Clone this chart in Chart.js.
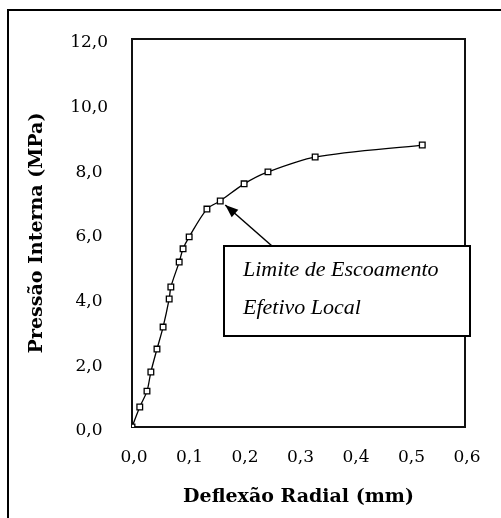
<!DOCTYPE html>
<html>
<head>
<meta charset="utf-8">
<script src="https://cdn.jsdelivr.net/npm/chart.js@4/dist/chart.umd.min.js"></script>
<style>
  html, body { margin: 0; padding: 0; background: #fff; }
  #chart { display: block; }
</style>
</head>
<body>
<canvas id="chart" width="501" height="518"></canvas>
<script>
// deflexão radial (mm) e pressão interna (MPa)
const deflexao = [0, 0.014, 0.027, 0.034, 0.045, 0.056, 0.067, 0.070, 0.085, 0.092, 0.103, 0.135, 0.159, 0.202, 0.245, 0.330, 0.523];
const pressao  = [0, 0.62, 1.11, 1.70, 2.41, 3.09, 3.96, 4.33, 5.10, 5.51, 5.88, 6.74, 6.99, 7.52, 7.89, 8.35, 8.72];

const xTicks = [0, 0.1, 0.2, 0.3, 0.4, 0.5, 0.6];
const yTicks = [0, 2, 4, 6, 8, 10, 12];

const xTitle = "Deflexão Radial (mm)";
const yTitle = "Pressão Interna (MPa)";
const noteLines = ["Limite de Escoamento", "Efetivo Local"];
const noteIndex = 12; // ponto para onde a seta aponta

const fmt = (v, d) => v.toFixed(d).replace(".", ",");

const tickFont = { family: "DejaVu Serif", size: 17 };
const titleFont = { family: "DejaVu Serif", size: 19, weight: "bold" };

// moldura externa, caixa do gráfico e anotação
const framePlugin = {
  id: "frame",
  beforeDraw(chart) {
    const ctx = chart.ctx;
    ctx.save();
    ctx.fillStyle = "#fff";
    ctx.fillRect(0, 0, chart.width, chart.height);
    ctx.strokeStyle = "#000";
    ctx.lineWidth = 2;
    ctx.beginPath();
    ctx.moveTo(8, chart.height);
    ctx.lineTo(8, 10);
    ctx.lineTo(chart.width, 10);
    ctx.stroke();
    ctx.restore();
  },
  beforeDatasetsDraw(chart) {
    const { ctx, chartArea: a } = chart;
    ctx.save();
    ctx.strokeStyle = "#111";
    ctx.lineWidth = 2;
    ctx.strokeRect(a.left, a.top, a.right - a.left, a.bottom - a.top);
    ctx.restore();
  },
  afterDatasetsDraw(chart) {
    const ctx = chart.ctx;
    const x = chart.scales.x, y = chart.scales.y;
    const tx = x.getPixelForValue(deflexao[noteIndex]) + 5;
    const ty = y.getPixelForValue(pressao[noteIndex]) + 4;
    const box = { l: 224, t: 246, r: 470, b: 336 };
    const sx = 272, sy = box.t;

    ctx.save();
    // seta
    ctx.strokeStyle = "#000";
    ctx.fillStyle = "#000";
    ctx.lineWidth = 1.5;
    ctx.beginPath();
    ctx.moveTo(sx, sy);
    ctx.lineTo(tx, ty);
    ctx.stroke();
    const ang = Math.atan2(ty - sy, tx - sx);
    const L = 13, W = 5;
    ctx.beginPath();
    ctx.moveTo(tx, ty);
    ctx.lineTo(tx - L * Math.cos(ang) + W * Math.sin(ang), ty - L * Math.sin(ang) - W * Math.cos(ang));
    ctx.lineTo(tx - L * Math.cos(ang) - W * Math.sin(ang), ty - L * Math.sin(ang) + W * Math.cos(ang));
    ctx.closePath();
    ctx.fill();

    // caixa
    ctx.fillStyle = "#fff";
    ctx.fillRect(box.l, box.t, box.r - box.l, box.b - box.t);
    ctx.lineWidth = 2;
    ctx.strokeRect(box.l, box.t, box.r - box.l, box.b - box.t);

    ctx.fillStyle = "#000";
    ctx.font = "italic 22px 'Liberation Serif'";
    ctx.textBaseline = "middle";
    ctx.textAlign = "left";
    ctx.fillText(noteLines[0], 243, 270);
    ctx.fillText(noteLines[1], 243, 308);
    ctx.restore();
  }
};

new Chart(document.getElementById("chart"), {
  type: "scatter",
  data: {
    datasets: [{
      data: deflexao.map((d, i) => ({ x: d, y: pressao[i] })),
      showLine: true,
      tension: 0.3,
      borderColor: "#000",
      borderWidth: 1.3,
      pointStyle: "rect",
      pointRadius: 4,
      pointBorderWidth: 1.3,
      pointBackgroundColor: "#fff",
      pointBorderColor: "#000"
    }]
  },
  options: {
    responsive: false,
    animation: false,
    layout: { padding: { top: 39, right: 36, left: 0, bottom: 0 } },
    plugins: { legend: { display: false }, tooltip: { enabled: false } },
    scales: {
      x: {
        type: "linear",
        min: 0, max: 0.6,
        afterBuildTicks: (s) => { s.ticks = xTicks.map(v => ({ value: v })); },
        afterFit: (s) => { s.height = 91; },
        grid: { display: false, drawTicks: false },
        border: { display: false },
        ticks: { color: "#000", font: tickFont, padding: 20, maxRotation: 0,
                 labelOffset: 2, callback: (v) => fmt(v, 1) },
        title: { display: true, text: xTitle, color: "#000", font: titleFont,
                 padding: { top: 0, bottom: 10 } }
      },
      y: {
        type: "linear",
        min: 0, max: 12,
        afterBuildTicks: (s) => { s.ticks = yTicks.map(v => ({ value: v })); },
        afterFit: (s) => { s.width = 132; },
        grid: { display: false, drawTicks: false },
        border: { display: false },
        ticks: { color: "#000", font: tickFont, padding: 24, crossAlign: "center",
                 labelOffset: 4, callback: (v) => fmt(v, 1) },
        title: { display: true, text: yTitle, color: "#000", font: titleFont,
                 padding: { top: 26, bottom: 0 } }
      }
    }
  },
  plugins: [framePlugin]
});
</script>
</body>
</html>
